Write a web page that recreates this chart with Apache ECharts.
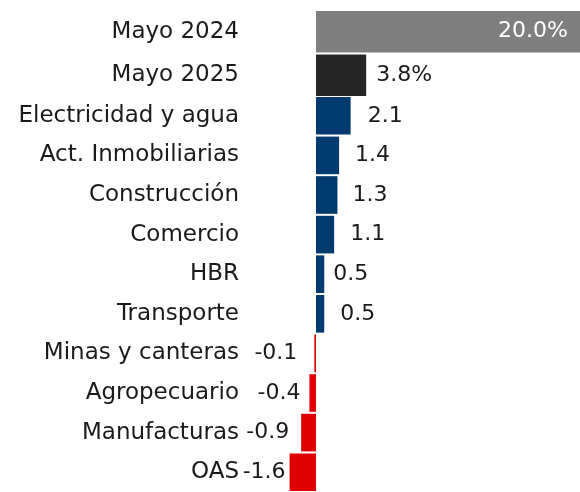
<!DOCTYPE html>
<html>
<head>
<meta charset="utf-8">
<script src="https://cdn.jsdelivr.net/npm/echarts@6/dist/echarts.min.js"></script>
<style>html,body{margin:0;padding:0;background:#fff}#c{width:580px;height:492px}</style>
</head>
<body>
<div id="c"></div>
<script>
// Data
var totalCats = ['Mayo 2024', 'Mayo 2025'];
var totalVals = [20.0, 3.8];
var sectorCats = ['Electricidad y agua', 'Act. Inmobiliarias', 'Construcción', 'Comercio', 'HBR', 'Transporte', 'Minas y canteras', 'Agropecuario', 'Manufacturas', 'OAS'];
var sectorVals = [2.1, 1.4, 1.3, 1.1, 0.5, 0.5, -0.1, -0.4, -0.9, -1.6];

// Styles
var totalColors = ['#7f7f7f', '#262626'];
var posColor = '#003a6e', negColor = '#e00000';
var sectorLabelGap = [17, 16, 15, 16, 9, 16, 17, 9, 12, 4];
var FONT = 'DejaVu Sans';
var FS_CAT = 23;
var FS_VAL = 22;

var chart = echarts.init(document.getElementById('c'));
chart.setOption({
  animation: false,
  grid: [
    {left: 283, width: 297, top: 10, height: 87},
    {left: 283, width: 297, top: 96, height: 400}
  ],
  xAxis: [
    {gridIndex: 0, type: 'value', min: -2.5, max: 20, show: false},
    {gridIndex: 1, type: 'value', min: -2, max: 16, show: false}
  ],
  yAxis: [
    {gridIndex: 0, type: 'category', inverse: true, data: totalCats,
     axisLine: {show: false}, axisTick: {show: false},
     axisLabel: {margin: 44, fontSize: FS_CAT, fontFamily: FONT, color: '#1a1a1a'}},
    {gridIndex: 1, type: 'category', inverse: true, data: sectorCats,
     axisLine: {show: false}, axisTick: {show: false},
     axisLabel: {margin: 44, fontSize: FS_CAT, fontFamily: FONT, color: '#1a1a1a'}}
  ],
  series: [
    {type: 'bar', xAxisIndex: 0, yAxisIndex: 0, barCategoryGap: '5%',
     data: totalVals.map(function (v, i) {
       return {value: v, itemStyle: {color: totalColors[i]},
         label: i === 0
           ? {show: true, position: 'insideRight', distance: 12, color: '#ffffff'}
           : {show: true, position: 'right', distance: 10, color: '#1a1a1a'}};
     }),
     label: {fontSize: FS_VAL, fontFamily: FONT, formatter: function (p) { return p.value.toFixed(1) + '%'; }}
    },
    {type: 'bar', xAxisIndex: 1, yAxisIndex: 1, barCategoryGap: '5%',
     data: sectorVals.map(function (v, i) {
       return {value: v, itemStyle: {color: v >= 0 ? posColor : negColor},
         label: {show: true, position: v >= 0 ? 'right' : 'left', distance: sectorLabelGap[i]}};
     }),
     label: {fontSize: FS_VAL, fontFamily: FONT, color: '#1a1a1a', formatter: function (p) { return p.value.toFixed(1); }}
    }
  ]
});
</script>
</body>
</html>
